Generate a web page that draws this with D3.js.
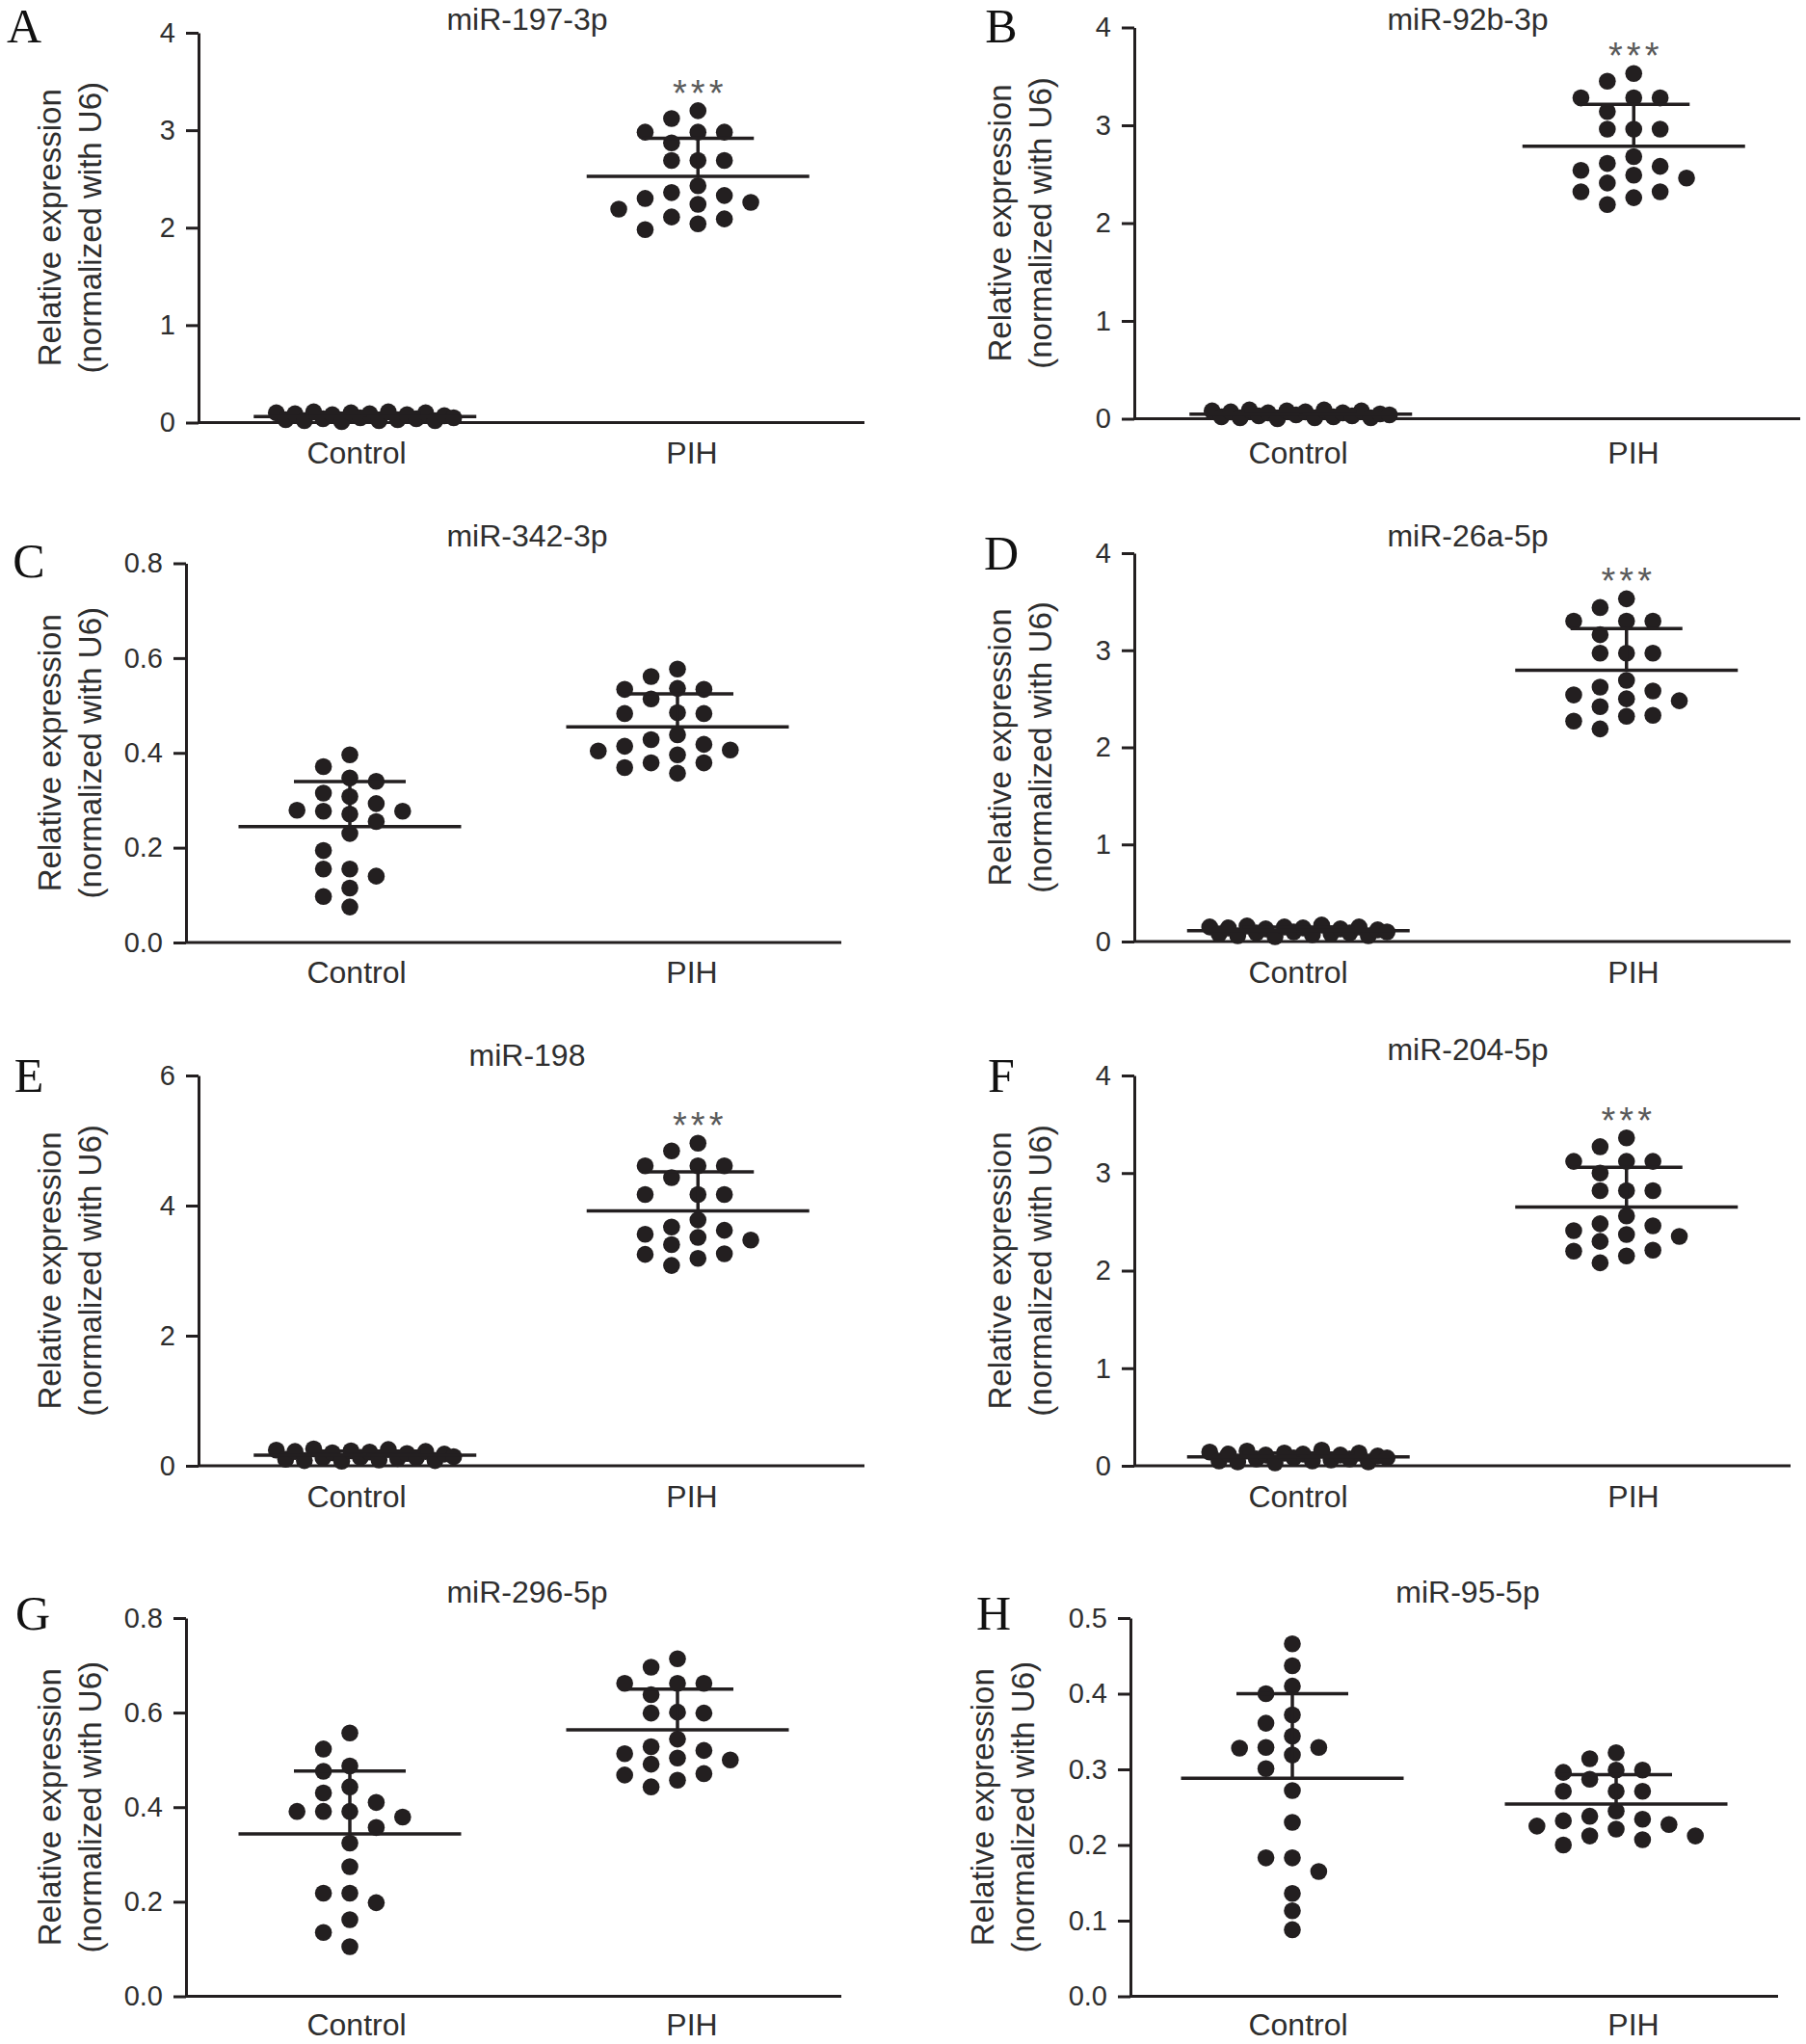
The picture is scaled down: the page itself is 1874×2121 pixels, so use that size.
<!DOCTYPE html>
<html><head><meta charset="utf-8">
<script src="https://cdn.jsdelivr.net/npm/d3@7"></script>
<style>
body{margin:0;background:#fff}
text{font-family:"Liberation Sans",Arial,sans-serif}
</style>
</head><body>
<svg id="chart" width="1874" height="2121"></svg>
<script>
// ---------- data ----------
const categories = ["Control", "PIH"];
const panelLetters = ["A","B","C","D","E","F","G","H"];
const titles = ["miR-197-3p","miR-92b-3p","miR-342-3p","miR-26a-5p","miR-198","miR-204-5p","miR-296-5p","miR-95-5p"];
const yMax  = [4, 4, 0.8, 4, 6, 4, 0.8, 0.5];
const yStep = [1, 1, 0.2, 1, 2, 1, 0.2, 0.1];
const significance = ["***","***","","***","***","***","",""];

const ctrlA = [0.10,0.03,0.09,0.02,0.11,0.04,0.08,0.01,0.10,0.05,0.09,0.02,0.11,0.03,0.08,0.04,0.10,0.02,0.07,0.05];
const pihA  = [3.20,3.12,2.98,2.98,2.98,2.87,2.69,2.69,2.69,2.43,2.36,2.33,2.30,2.26,2.24,2.19,2.11,2.09,2.04,1.98];
const ctrlB = [0.08,0.02,0.07,0.01,0.09,0.03,0.06,0.00,0.08,0.04,0.07,0.01,0.09,0.02,0.06,0.03,0.08,0.01,0.05,0.04];
const pihB  = [3.53,3.45,3.28,3.28,3.28,3.14,2.96,2.96,2.96,2.68,2.61,2.58,2.54,2.49,2.46,2.41,2.32,2.32,2.26,2.19];
const ctrlC = [0.396,0.371,0.347,0.340,0.315,0.308,0.293,0.279,0.277,0.277,0.271,0.255,0.230,0.194,0.155,0.155,0.140,0.115,0.097,0.075];
const pihC  = [0.577,0.561,0.536,0.534,0.534,0.514,0.485,0.483,0.483,0.438,0.428,0.418,0.414,0.406,0.404,0.396,0.379,0.379,0.369,0.357];
const ctrlD = [0.15,0.08,0.14,0.06,0.16,0.09,0.13,0.05,0.15,0.10,0.14,0.07,0.17,0.08,0.13,0.09,0.15,0.06,0.12,0.10];
const pihD  = [3.53,3.44,3.30,3.30,3.30,3.16,2.97,2.97,2.97,2.69,2.62,2.58,2.54,2.50,2.48,2.42,2.33,2.32,2.27,2.19];
const ctrlE = [0.24,0.10,0.22,0.08,0.26,0.12,0.20,0.07,0.23,0.13,0.21,0.09,0.25,0.11,0.19,0.12,0.22,0.08,0.18,0.14];
const pihE  = [4.96,4.84,4.61,4.61,4.61,4.43,4.17,4.17,4.17,3.78,3.67,3.62,3.56,3.51,3.47,3.40,3.26,3.25,3.19,3.08];
const ctrlF = [0.14,0.05,0.12,0.04,0.15,0.07,0.11,0.03,0.13,0.08,0.12,0.05,0.16,0.06,0.11,0.07,0.13,0.04,0.10,0.08];
const pihF  = [3.36,3.27,3.12,3.12,3.12,3.00,2.82,2.82,2.82,2.56,2.48,2.46,2.41,2.37,2.35,2.30,2.21,2.20,2.15,2.08];
const ctrlG = [0.557,0.523,0.487,0.476,0.443,0.430,0.410,0.391,0.391,0.391,0.379,0.357,0.324,0.274,0.218,0.218,0.198,0.162,0.135,0.105];
const pihG  = [0.714,0.696,0.662,0.662,0.662,0.638,0.601,0.599,0.599,0.544,0.528,0.520,0.513,0.504,0.500,0.491,0.471,0.468,0.457,0.443];
const ctrlH = [0.466,0.437,0.410,0.400,0.372,0.361,0.344,0.329,0.329,0.328,0.319,0.301,0.272,0.230,0.183,0.183,0.165,0.136,0.113,0.088];
const pihH  = [0.322,0.314,0.299,0.299,0.296,0.287,0.271,0.271,0.271,0.245,0.238,0.234,0.232,0.227,0.225,0.221,0.212,0.212,0.207,0.200];

const controlSeries = [ctrlA, ctrlB, ctrlC, ctrlD, ctrlE, ctrlF, ctrlG, ctrlH];
const pihSeries     = [pihA, pihB, pihC, pihD, pihE, pihF, pihG, pihH];

// ---------- layout (positions only) ----------
const LEFT_CAT = [370, 718], RIGHT_CAT = [1347, 1695];
const layout = [
  {x0:206, x1:897,  yTop:34,   y0:438.5, lx:25,   ly:27,   tx:547,  ty:20,   yl:[51,93],     cy:470,  cx:LEFT_CAT},
  {x0:1177,x1:1868, yTop:28.5, y0:434.5, lx:1039, ly:27,   tx:1523, ty:20,   yl:[1037,1079], cy:470,  cx:RIGHT_CAT},
  {x0:193, x1:873,  yTop:584.5,y0:978,   lx:30,   ly:582,  tx:547,  ty:556,  yl:[51,93],     cy:1009, cx:LEFT_CAT},
  {x0:1177,x1:1858, yTop:574,  y0:977,   lx:1039, ly:574,  tx:1523, ty:556,  yl:[1037,1079], cy:1009, cx:RIGHT_CAT},
  {x0:206, x1:897,  yTop:1116, y0:1521,  lx:30,   ly:1116, tx:547,  ty:1095, yl:[51,93],     cy:1553, cx:LEFT_CAT},
  {x0:1177,x1:1858, yTop:1116, y0:1521,  lx:1039, ly:1116, tx:1523, ty:1089, yl:[1037,1079], cy:1553, cx:RIGHT_CAT},
  {x0:193, x1:873,  yTop:1679, y0:2071.5,lx:34,   ly:1674, tx:547,  ty:1652, yl:[51,93],     cy:2101, cx:LEFT_CAT},
  {x0:1173,x1:1845, yTop:1679, y0:2071.5,lx:1031, ly:1674, tx:1523, ty:1652, yl:[1019,1061], cy:2101, cx:RIGHT_CAT}
];

const INK = "#231f20", TXT = "#2e2e2e";
const R = 8.8, MIN_DY = 18, SLOT = 27.4, MAX_HALF = 92;
const MEAN_HALF = 115.5, CAP_HALF = 58;

const svg = d3.select("#chart");

// Prism-like scatter: greedy slots; if points cannot be separated vertically, spread evenly in data order
function swarm(values, y, cx) {
  const slotOrder = [0];
  for (let k = 1; k <= 20; k++) { slotOrder.push(-k, k); }
  const order = d3.range(values.length).sort((a, b) => values[b] - values[a]);
  const placed = [];
  const res = new Array(values.length);
  order.forEach(i => {
    const py = y(values[i]);
    for (const s of slotOrder) {
      if (placed.every(p => p.slot !== s || Math.abs(p.py - py) >= MIN_DY)) {
        const r = {slot: s, py: py};
        placed.push(r); res[i] = r; break;
      }
    }
  });
  const maxAbs = d3.max(res, r => Math.abs(r.slot)) || 1;
  if (maxAbs * SLOT > MAX_HALF + 1) {
    const n = values.length, step = 2 * MAX_HALF / (n - 1);
    return values.map((v, i) => ({x: cx - MAX_HALF + i * step, y: y(v)}));
  }
  return res.map(r => ({x: cx + r.slot * SLOT, y: r.py}));
}

layout.forEach((L, p) => {
  const g = svg.append("g");
  const y = d3.scaleLinear().domain([0, yMax[p]]).range([L.y0, L.yTop]);
  const x = d3.scalePoint().domain(categories).range([L.x0, L.x1]).padding(0.5);
  const ticks = d3.range(0, yMax[p] + yStep[p] / 2, yStep[p]);
  const fmt = yStep[p] < 1 ? d3.format(".1f") : d3.format("d");

  // y axis
  const ax = g.append("g").attr("transform", `translate(${L.x0},0)`)
    .call(d3.axisLeft(y).tickValues(ticks).tickFormat(fmt).tickSize(13).tickPadding(11).tickSizeOuter(0));
  ax.select(".domain").attr("stroke", INK).attr("stroke-width", 3);
  ax.selectAll(".tick line").attr("stroke", INK).attr("stroke-width", 3);
  ax.selectAll(".tick text").attr("fill", TXT).style("font-size", "29px")
    .style("font-family", '"Liberation Sans",Arial,sans-serif');

  // x axis baseline
  g.append("line").attr("x1", L.x0).attr("x2", L.x1).attr("y1", y(0)).attr("y2", y(0))
    .attr("stroke", INK).attr("stroke-width", 3);

  // category labels
  g.selectAll("text.cat").data(categories).enter().append("text")
    .attr("class", "cat").attr("x", (d, i) => L.cx[i]).attr("y", L.cy)
    .attr("text-anchor", "middle").attr("dominant-baseline", "central")
    .attr("fill", TXT).style("font-size", "32px").text(d => d);

  // title
  g.append("text").attr("x", L.tx).attr("y", L.ty).attr("text-anchor", "middle")
    .attr("dominant-baseline", "central").attr("fill", TXT).style("font-size", "32px").text(titles[p]);

  // panel letter
  g.append("text").attr("x", L.lx).attr("y", L.ly).attr("text-anchor", "middle")
    .attr("dominant-baseline", "central").attr("fill", "#111")
    .style("font-family", '"Liberation Serif","Times New Roman",serif').style("font-size", "50px")
    .text(panelLetters[p]);

  // y label
  const ymid = (L.yTop + L.y0) / 2;
  ["Relative expression", "(normalized with U6)"].forEach((t, k) => {
    g.append("text").attr("transform", `translate(${L.yl[k]},${ymid}) rotate(-90)`)
      .attr("text-anchor", "middle").attr("dominant-baseline", "central")
      .attr("fill", TXT).style("font-size", "33px").text(t);
  });

  // groups
  [controlSeries[p], pihSeries[p]].forEach((vals, gi) => {
    const cx = x(categories[gi]);
    const pts = swarm(vals, y, cx);
    g.append("g").selectAll("circle").data(pts).enter().append("circle")
      .attr("cx", d => d.x).attr("cy", d => d.y).attr("r", R).attr("fill", INK);
    const m = d3.mean(vals), sd = d3.deviation(vals);
    g.append("line").attr("x1", cx - MEAN_HALF).attr("x2", cx + MEAN_HALF)
      .attr("y1", y(m)).attr("y2", y(m)).attr("stroke", INK).attr("stroke-width", 3.5);
    g.append("line").attr("x1", cx).attr("x2", cx).attr("y1", y(m)).attr("y2", y(m + sd))
      .attr("stroke", INK).attr("stroke-width", 3.5);
    g.append("line").attr("x1", cx - CAP_HALF).attr("x2", cx + CAP_HALF)
      .attr("y1", y(m + sd)).attr("y2", y(m + sd)).attr("stroke", INK).attr("stroke-width", 3.5);
    if (gi === 1 && significance[p]) {
      g.append("text").attr("x", cx + 2).attr("y", y(d3.max(vals)) - 5)
        .attr("text-anchor", "middle").attr("fill", "#5a5a5a")
        .style("font-size", "38px").style("letter-spacing", "4px").text(significance[p]);
    }
  });
});
</script>
</body></html>
